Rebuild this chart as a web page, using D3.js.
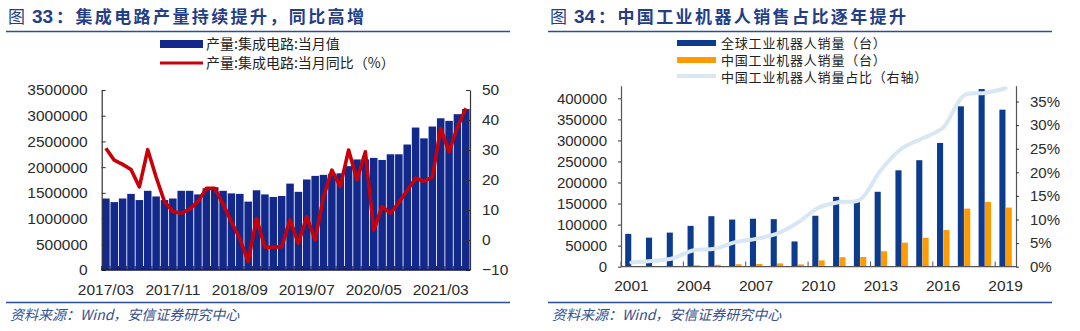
<!DOCTYPE html>
<html>
<head>
<meta charset="utf-8">
<script src="https://cdn.jsdelivr.net/npm/d3@7"></script>
<style>
  body { margin: 0; background: #fff; }
  svg { display: block; font-family: "Liberation Sans", Arial, "Noto Sans CJK SC", sans-serif; }
</style>
</head>
<body>
<svg id="chart" width="1080" height="331"></svg>
<script>
// ---------- Figure 33: monthly integrated-circuit output ----------
const icMonths = [
  "2017/03","2017/04","2017/05","2017/06","2017/07","2017/08","2017/09","2017/10","2017/11","2017/12",
  "2018/03","2018/04","2018/05","2018/06","2018/07","2018/08","2018/09","2018/10","2018/11","2018/12",
  "2019/03","2019/04","2019/05","2019/06","2019/07","2019/08","2019/09","2019/10","2019/11","2019/12",
  "2020/03","2020/04","2020/05","2020/06","2020/07","2020/08","2020/09","2020/10","2020/11","2020/12",
  "2021/03","2021/04","2021/05","2021/06"
];
const icOutput = [
  1390000, 1320000, 1390000, 1480000, 1360000, 1540000, 1430000, 1360000, 1390000, 1540000,
  1540000, 1470000, 1590000, 1610000, 1540000, 1490000, 1480000, 1330000, 1550000, 1470000,
  1420000, 1440000, 1680000, 1520000, 1760000, 1830000, 1850000, 1870000, 1880000, 2020000,
  2150000, 2150000, 2180000, 2140000, 2250000, 2250000, 2440000, 2770000, 2560000, 2790000,
  2950000, 2900000, 3030000, 3130000
];
const icYoY = [
  30.6, 26.6, 25.2, 23.5, 17.7, 30.1, 21.0, 12.8, 9.5, 8.9,
  10.3, 12.8, 17.2, 17.2, 12.0, 6.0, 0.5, -7.2, 7.2, -2.4,
  -2.4, -2.2, 6.7, -1.1, 7.8, 0.0, 14.4, 23.3, 17.8, 30.0,
  20.0, 29.4, 3.3, 11.1, 8.9, 12.5, 16.5, 20.6, 19.6, 20.9,
  37.2, 29.4, 37.6, 43.9
];
const icLeftTicks = [0, 500000, 1000000, 1500000, 2000000, 2500000, 3000000, 3500000];
const icRightTicks = [-10, 0, 10, 20, 30, 40, 50];
const icLabelMonths = ["2017/03", "2017/11", "2018/09", "2019/07", "2020/05", "2021/03"];

// ---------- Figure 34: industrial robot sales ----------
const robotYears = ["2001","2002","2003","2004","2005","2006","2007","2008","2009","2010",
  "2011","2012","2013","2014","2015","2016","2017","2018","2019"];
const globalSales = [78000, 69000, 81000, 97000, 120000, 112000, 114000, 113000, 60000, 121000,
  166000, 156000, 178000, 229000, 253000, 294000, 381000, 422000, 373000];
const chinaSales = [700, 1000, 1400, 3500, 4500, 5800, 6600, 7900, 5500, 15000,
  22600, 23000, 36600, 57100, 68600, 87000, 138000, 154000, 140500];
const chinaShare = [0.009, 0.012, 0.018, 0.035, 0.038, 0.052, 0.059, 0.070, 0.093, 0.125,
  0.137, 0.142, 0.205, 0.250, 0.272, 0.295, 0.363, 0.368, 0.378];
const robotLeftTicks = [0, 50000, 100000, 150000, 200000, 250000, 300000, 350000, 400000];
const robotRightTicks = [0, 0.05, 0.10, 0.15, 0.20, 0.25, 0.30, 0.35];
const robotLabelYears = ["2001", "2004", "2007", "2010", "2013", "2016", "2019"];

const svg = d3.select("#chart");
const NAVY = "#233e87";
const RULE = "#2c4c9c";
const TICK_TXT = "#2b2b2b";
const CJK = "'Noto Sans CJK SC', 'Liberation Sans', sans-serif";

// ----- shared frame pieces: title, rules, source line -----
function frame(x0, x1, num, text) {
  const t = svg.append("text").attr("y", 23).attr("fill", NAVY)
    .style("font-family", CJK).style("font-weight", "bold").style("font-size", "17px");
  t.append("tspan").attr("x", x0 + 2).style("font-weight", "normal").text("图");
  t.append("tspan").attr("x", x0 + 26).style("font-family", "'Liberation Sans', Arial, sans-serif")
    .style("font-size", "19px").text(num);
  t.append("tspan").attr("x", x0 + 50).style("letter-spacing", "2.4px").text("：" + text);

  svg.append("line").attr("x1", x0).attr("x2", x1).attr("y1", 31.5).attr("y2", 31.5)
    .attr("stroke", RULE).attr("stroke-width", 1.6);
  svg.append("line").attr("x1", x0).attr("x2", x1).attr("y1", 302.5).attr("y2", 302.5)
    .attr("stroke", RULE).attr("stroke-width", 1.6);

  svg.append("text").attr("x", x0 + 4).attr("y", 320).attr("fill", "#34508f")
    .style("font-family", CJK).style("font-style", "italic").style("font-size", "14px")
    .text("资料来源：Wind，安信证券研究中心");
}

function styleAxis(g, size) {
  g.select(".domain").attr("stroke", "#333").attr("stroke-width", 1.2);
  g.selectAll(".tick line").attr("stroke", "#333");
  g.selectAll(".tick text").attr("fill", TICK_TXT).style("font-size", size)
    .style("font-family", "'Liberation Sans', Arial, sans-serif");
}

// ================= Figure 33 =================
frame(6, 510, "33", "集成电路产量持续提升，同比高增");

const icX = d3.scaleBand().domain(icMonths).range([101.7, 470]).paddingInner(0.1).paddingOuter(0.05);
const icY = d3.scaleLinear().domain([0, 3500000]).range([270, 90]);
const icY2 = d3.scaleLinear().domain([-10, 50]).range([270, 90]);
const icBW = icX.bandwidth();

svg.append("g").selectAll("rect").data(icMonths).join("rect")
  .attr("x", d => icX(d)).attr("width", icBW)
  .attr("y", (d, i) => icY(icOutput[i]))
  .attr("height", (d, i) => icY(0) - icY(icOutput[i]))
  .attr("fill", "#12298b");

const icLine = d3.line()
  .x((d, i) => icX(icMonths[i]) + icBW / 2)
  .y(d => icY2(d));
svg.append("path").datum(icYoY).attr("d", icLine)
  .attr("fill", "none").attr("stroke", "#c8000a").attr("stroke-width", 3.6)
  .attr("stroke-linejoin", "round");

const icLeft = svg.append("g").attr("transform", "translate(101.7,0)")
  .call(d3.axisLeft(icY).tickValues(icLeftTicks).tickFormat(d3.format("d"))
    .tickSizeInner(-4).tickSizeOuter(0).tickPadding(14));
styleAxis(icLeft, "15.5px");

const icRight = svg.append("g").attr("transform", "translate(470,0)")
  .call(d3.axisRight(icY2).tickValues(icRightTicks).tickFormat(d3.format("d"))
    .tickSizeInner(-4).tickSizeOuter(0).tickPadding(12));
styleAxis(icRight, "15.5px");

// bottom axis: rule plus small notches between months
const icStepGap = (icX.step() - icBW) / 2;
svg.append("line").attr("x1", 101.7).attr("x2", 470).attr("y1", 270).attr("y2", 270)
  .attr("stroke", "#1a1a40").attr("stroke-width", 1.5);
svg.append("g").selectAll("line").data(icMonths).join("line")
  .attr("x1", d => icX(d) - icStepGap).attr("x2", d => icX(d) - icStepGap)
  .attr("y1", 270).attr("y2", 266).attr("stroke", "#1a1a40").attr("stroke-width", 1);
svg.append("g").selectAll("text").data(icLabelMonths).join("text")
  .attr("x", d => icX(d) + icBW / 2).attr("y", 295)
  .attr("text-anchor", "middle").attr("fill", TICK_TXT)
  .style("font-size", "15.5px").text(d => d);

// legend
const icLeg = svg.append("g").style("font-family", CJK).style("font-size", "14px").attr("fill", "#222");
icLeg.append("rect").attr("x", 160).attr("y", 40).attr("width", 43).attr("height", 8).attr("fill", "#12298b");
icLeg.append("text").attr("x", 206).attr("y", 49).text("产量:集成电路:当月值");
icLeg.append("line").attr("x1", 160).attr("x2", 203).attr("y1", 63).attr("y2", 63)
  .attr("stroke", "#c8000a").attr("stroke-width", 3);
icLeg.append("text").attr("x", 206).attr("y", 68).text("产量:集成电路:当月同比（%）");

// ================= Figure 34 =================
frame(548, 1052, "34", "中国工业机器人销售占比逐年提升");

const rbX = d3.scaleBand().domain(robotYears).range([621, 1016]);
const rbSub = d3.scaleBand().domain(["global", "china"]).range([0, rbX.bandwidth()])
  .paddingInner(0.04).paddingOuter(0.66);
const rbY = d3.scaleLinear().domain([0, 430000]).range([266.7, 85.7]);
const rbY2 = d3.scaleLinear().domain([0, 0.3835]).range([266.7, 85.7]);

svg.append("g").selectAll("rect").data(robotYears).join("rect")
  .attr("x", d => rbX(d) + rbSub("global")).attr("width", rbSub.bandwidth())
  .attr("y", (d, i) => rbY(globalSales[i]))
  .attr("height", (d, i) => rbY(0) - rbY(globalSales[i]))
  .attr("fill", "#0d3c8f");
svg.append("g").selectAll("rect").data(robotYears).join("rect")
  .attr("x", d => rbX(d) + rbSub("china")).attr("width", rbSub.bandwidth())
  .attr("y", (d, i) => rbY(chinaSales[i]))
  .attr("height", (d, i) => rbY(0) - rbY(chinaSales[i]))
  .attr("fill", "#ff9a00");

const rbLine = d3.line()
  .x((d, i) => rbX(robotYears[i]) + rbX.bandwidth() / 2)
  .y(d => rbY2(d))
  .curve(d3.curveCatmullRom.alpha(0.5));
svg.append("path").datum(chinaShare).attr("d", rbLine)
  .attr("fill", "none").attr("stroke", "#d9e7f5").attr("stroke-width", 4)
  .attr("stroke-linecap", "round");

const rbLeft = svg.append("g").attr("transform", "translate(621,0)")
  .call(d3.axisLeft(rbY).tickValues(robotLeftTicks).tickFormat(d3.format("d"))
    .tickSizeInner(3).tickSizeOuter(0).tickPadding(11));
styleAxis(rbLeft, "15px");
rbLeft.select(".domain").attr("stroke", "#555");

const rbRight = svg.append("g").attr("transform", "translate(1016,0)")
  .call(d3.axisRight(rbY2).tickValues(robotRightTicks).tickFormat(d3.format(".0%"))
    .tickSizeInner(3).tickSizeOuter(0).tickPadding(11));
styleAxis(rbRight, "15px");
rbRight.select(".domain").attr("stroke", "#555");

svg.append("line").attr("x1", 621).attr("x2", 1016).attr("y1", 266.7).attr("y2", 266.7)
  .attr("stroke", "#555").attr("stroke-width", 1.2);
svg.append("g").selectAll("line").data(robotLabelYears).join("line")
  .attr("x1", d => rbX(d)).attr("x2", d => rbX(d))
  .attr("y1", 266.7).attr("y2", 261.5).attr("stroke", "#555");
svg.append("g").selectAll("text").data(robotLabelYears).join("text")
  .attr("x", d => rbX(d) + rbX.bandwidth() / 2).attr("y", 291)
  .attr("text-anchor", "middle").attr("fill", TICK_TXT)
  .style("font-size", "15.5px").text(d => d);

// legend
const rbLeg = svg.append("g").style("font-family", CJK).style("font-size", "13px")
  .style("letter-spacing", "0.8px").attr("fill", "#222");
rbLeg.append("rect").attr("x", 677).attr("y", 40).attr("width", 39).attr("height", 6).attr("fill", "#0d3c8f");
rbLeg.append("text").attr("x", 721).attr("y", 47.5).text("全球工业机器人销量（台）");
rbLeg.append("rect").attr("x", 677).attr("y", 57).attr("width", 39).attr("height", 6).attr("fill", "#ff9a00");
rbLeg.append("text").attr("x", 721).attr("y", 64.5).text("中国工业机器人销量（台）");
rbLeg.append("line").attr("x1", 677).attr("x2", 716).attr("y1", 76).attr("y2", 76)
  .attr("stroke", "#d9e7f5").attr("stroke-width", 4);
rbLeg.append("text").attr("x", 721).attr("y", 81.5).text("中国工业机器人销量占比（右轴）");
</script>
</body>
</html>
